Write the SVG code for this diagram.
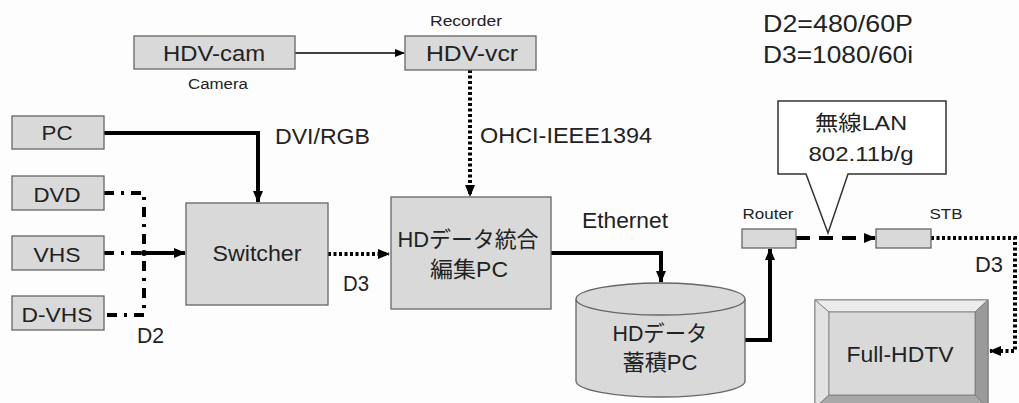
<svg xmlns="http://www.w3.org/2000/svg" width="1019" height="403" viewBox="0 0 1019 403">
<style>
.box{fill:#d9d9d9;stroke:#666;stroke-width:1.3}
.t{font-family:"Liberation Sans","Noto Sans CJK JP",sans-serif;fill:#222}
.thick{fill:none;stroke:#000;stroke-width:4}
.thin{fill:none;stroke:#000;stroke-width:1.5}
.dot{fill:none;stroke:#000;stroke-width:4;stroke-dasharray:3 2.5}
.dashdot{fill:none;stroke:#000;stroke-width:4;stroke-dasharray:10 7 3 7}
.dash{fill:none;stroke:#000;stroke-width:4;stroke-dasharray:14 9}
</style>
<defs>
<marker id="ah" markerUnits="userSpaceOnUse" markerWidth="12" markerHeight="12" viewBox="0 0 12 12" refX="11" refY="6" orient="auto">
<path d="M0,1 L12,6 L0,11 Z" fill="#000"/>
</marker>
<marker id="ahs" markerUnits="userSpaceOnUse" markerWidth="10" markerHeight="10" viewBox="0 0 10 10" refX="9" refY="5" orient="auto">
<path d="M0,1 L10,5 L0,9 Z" fill="#000"/>
</marker>
</defs>
<rect width="1019" height="403" fill="#fdfdfd"/>

<g id="connectors">
<path class="thin" d="M295,53 H404" marker-end="url(#ahs)"/>
<path class="dot" d="M470,70 V196" marker-end="url(#ah)"/>
<path class="thick" d="M104,133 H258 V202" marker-end="url(#ah)"/>
<path class="dashdot" d="M104,193 H144 V315 H104"/>
<path class="dashdot" d="M104,253 H144"/>
<circle cx="144" cy="253" r="3" fill="#000"/>
<path class="thick" d="M144,253 H185" marker-end="url(#ah)"/>
<path class="dot" d="M328,254 H389" marker-end="url(#ah)"/>
<path class="thick" d="M551,253 H661 V282" marker-end="url(#ah)"/>
<path class="thick" d="M745,340 H770 V249" marker-end="url(#ah)"/>
<path class="dash" d="M796,238 H875" marker-end="url(#ah)"/>
<path class="dot" d="M931,238 H1015 V351 H990" marker-end="url(#ah)"/>
</g>

<g id="hdv-cam"><rect class="box" x="134" y="36" width="161" height="33"/>
<text class="t" x="214" y="61" font-size="22" text-anchor="middle" textLength="102" lengthAdjust="spacingAndGlyphs">HDV-cam</text>
<text class="t" x="218" y="89" font-size="14" text-anchor="middle" textLength="60" lengthAdjust="spacingAndGlyphs">Camera</text></g>

<g id="hdv-vcr"><rect class="box" x="405" y="36" width="131" height="34"/>
<text class="t" x="472" y="61" font-size="22" text-anchor="middle" textLength="92" lengthAdjust="spacingAndGlyphs">HDV-vcr</text>
<text class="t" x="466" y="26" font-size="14" text-anchor="middle" textLength="72" lengthAdjust="spacingAndGlyphs">Recorder</text></g>

<g id="pc"><rect class="box" x="12" y="116" width="92" height="33"/>
<text class="t" x="57" y="140" font-size="20" text-anchor="middle" textLength="31" lengthAdjust="spacingAndGlyphs">PC</text></g>

<g id="dvd"><rect class="box" x="12" y="176" width="92" height="34"/>
<text class="t" x="57" y="202" font-size="20" text-anchor="middle" textLength="47" lengthAdjust="spacingAndGlyphs">DVD</text></g>

<g id="vhs"><rect class="box" x="12" y="236" width="92" height="34"/>
<text class="t" x="57" y="262" font-size="20" text-anchor="middle" textLength="47" lengthAdjust="spacingAndGlyphs">VHS</text></g>

<g id="d-vhs"><rect class="box" x="12" y="296" width="92" height="34"/>
<text class="t" x="57" y="322" font-size="20" text-anchor="middle" textLength="71" lengthAdjust="spacingAndGlyphs">D-VHS</text></g>

<g id="switcher"><rect class="box" x="186" y="203" width="142" height="102"/>
<text class="t" x="257" y="261" font-size="22" text-anchor="middle" textLength="89" lengthAdjust="spacingAndGlyphs">Switcher</text></g>

<g id="hd-edit"><rect class="box" x="391" y="197" width="160" height="112"/>
<text class="t" x="468" y="247" font-size="22" text-anchor="middle" textLength="141" lengthAdjust="spacingAndGlyphs">HDデータ統合</text>
<text class="t" x="469" y="277" font-size="22" text-anchor="middle" textLength="78" lengthAdjust="spacingAndGlyphs">編集PC</text></g>

<g id="hd-store">
<path d="M576,299 V381 A84.5,16 0 0 0 745,381 V299" fill="#d9d9d9" stroke="#666" stroke-width="1.3"/>
<ellipse cx="660.5" cy="299" rx="84.5" ry="16" fill="#d9d9d9" stroke="#666" stroke-width="1.3"/>
<text class="t" x="660" y="341" font-size="22" text-anchor="middle" textLength="95" lengthAdjust="spacingAndGlyphs">HDデータ</text>
<text class="t" x="660" y="370" font-size="22" text-anchor="middle" textLength="75" lengthAdjust="spacingAndGlyphs">蓄積PC</text></g>

<g id="router"><rect class="box" x="742" y="229" width="54" height="19"/>
<text class="t" x="768" y="219" font-size="14" text-anchor="middle" textLength="51" lengthAdjust="spacingAndGlyphs">Router</text></g>

<g id="stb"><rect class="box" x="876" y="229" width="55" height="19"/>
<text class="t" x="946" y="219" font-size="14" text-anchor="middle" textLength="33" lengthAdjust="spacingAndGlyphs">STB</text></g>

<g id="wireless">
<path d="M778,101 H946 V174 H848 L828,233 L806,174 H778 Z" fill="#fff" stroke="#333" stroke-width="1.5"/>
<text class="t" x="861" y="130" font-size="21" text-anchor="middle" textLength="92" lengthAdjust="spacingAndGlyphs">無線LAN</text>
<text class="t" x="861" y="161" font-size="21" text-anchor="middle" textLength="105" lengthAdjust="spacingAndGlyphs">802.11b/g</text></g>

<g id="full-hdtv">
<rect x="815" y="300" width="173" height="108" fill="#c8c8c8" stroke="#666" stroke-width="1"/>
<path d="M815,300 H988 L975,312 H829 Z" fill="#ececec" stroke="#777" stroke-width="0.8"/>
<path d="M815,300 L829,312 V395 L815,408 Z" fill="#e2e2e2" stroke="#777" stroke-width="0.8"/>
<path d="M988,300 L975,312 V395 L988,408 Z" fill="#9a9a9a" stroke="#777" stroke-width="0.8"/>
<path d="M829,395 H975 L988,408 H815 Z" fill="#a8a8a8" stroke="#777" stroke-width="0.8"/>
<rect x="829" y="312" width="146" height="83" fill="#d9d9d9" stroke="#777" stroke-width="0.8"/>
<text class="t" x="900" y="362" font-size="22" text-anchor="middle" textLength="107" lengthAdjust="spacingAndGlyphs">Full-HDTV</text></g>

<g id="labels">
<text class="t" x="275" y="144" font-size="22" textLength="95" lengthAdjust="spacingAndGlyphs">DVI/RGB</text>
<text class="t" x="480" y="143" font-size="22" textLength="172" lengthAdjust="spacingAndGlyphs">OHCI-IEEE1394</text>
<text class="t" x="137" y="343" font-size="22" textLength="27" lengthAdjust="spacingAndGlyphs">D2</text>
<text class="t" x="343" y="291" font-size="22" textLength="26" lengthAdjust="spacingAndGlyphs">D3</text>
<text class="t" x="582" y="228" font-size="22" textLength="86" lengthAdjust="spacingAndGlyphs">Ethernet</text>
<text class="t" x="975" y="272" font-size="22" textLength="28" lengthAdjust="spacingAndGlyphs">D3</text>
<text class="t" x="763" y="32" font-size="24" textLength="150" lengthAdjust="spacingAndGlyphs">D2=480/60P</text>
<text class="t" x="763" y="63" font-size="24" textLength="150" lengthAdjust="spacingAndGlyphs">D3=1080/60i</text>
</g>
</svg>
